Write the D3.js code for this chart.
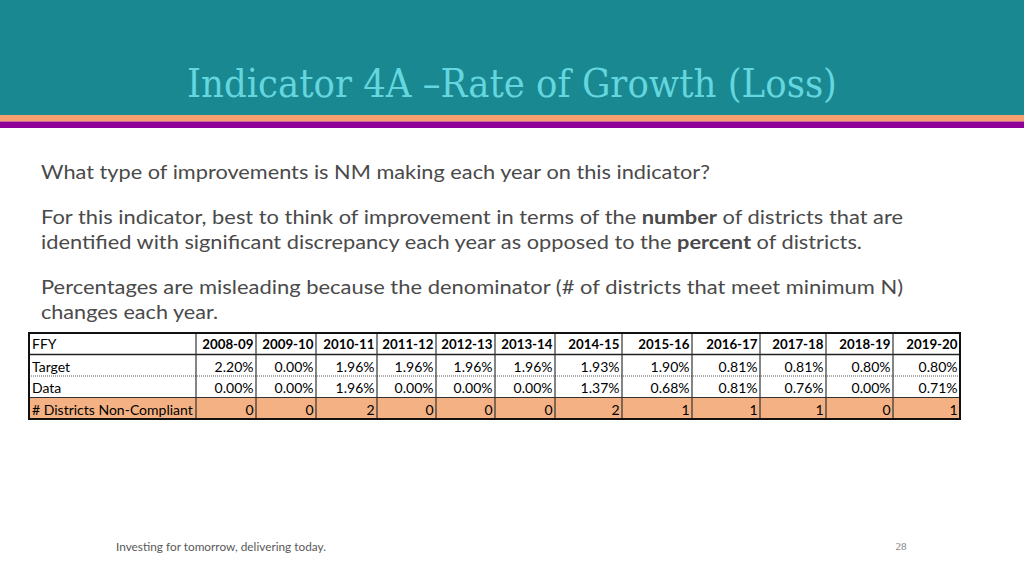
<!DOCTYPE html>
<html><head><meta charset="utf-8">
<script src="https://cdn.jsdelivr.net/npm/d3@7"></script>
<style>
html,body{margin:0;padding:0;background:#fff;}
svg{display:block;}
</style></head>
<body>
<svg id="c" width="1024" height="576"></svg>
<script>
// ---- data ----
const years = ["2008-09","2009-10","2010-11","2011-12","2012-13","2013-14","2014-15","2015-16","2016-17","2017-18","2018-19","2019-20"];
const rowLabels = ["Target","Data","# Districts Non-Compliant"];
const targetValues = [2.20,0.00,1.96,1.96,1.96,1.96,1.93,1.90,0.81,0.81,0.80,0.80];
const dataValues = [0.00,0.00,1.96,0.00,0.00,0.00,1.37,0.68,0.81,0.76,0.00,0.71];
const nonCompliant = [0,0,2,0,0,0,2,1,1,1,0,1];
const title = "Indicator 4A \u2013Rate of Growth (Loss)";
const footer = "Investing for tomorrow, delivering today.";
const pageNumber = "28";

// ---- layout ----
const svg = d3.select("#c");
const bodyFont = "Lato, 'Open Sans', sans-serif";

svg.append("rect").attr("x",0).attr("y",0).attr("width",1024).attr("height",115).attr("fill","#198891");
svg.append("rect").attr("x",0).attr("y",115).attr("width",1024).attr("height",6.5).attr("fill","#f79f6e");
svg.append("rect").attr("x",0).attr("y",121.5).attr("width",1024).attr("height",6.5).attr("fill","#8e0199");

svg.append("text").attr("x",512).attr("y",97).attr("text-anchor","middle")
  .attr("font-family","'DejaVu Serif Condensed','Liberation Serif',serif").attr("font-size",40)
  .attr("fill","#64d6df").attr("textLength",650).attr("lengthAdjust","spacingAndGlyphs").text(title);

// body text
const lines = [
  {y:179, parts:[["What type of improvements is NM making each year on this indicator?",false]], w:669},
  {y:224, parts:[["For this indicator, best to think of improvement in terms of the ",false],["number",true],[" of districts that are",false]], w:862},
  {y:249, parts:[["identified with significant discrepancy each year as opposed to the ",false],["percent",true],[" of districts.",false]], w:821},
  {y:294, parts:[["Percentages are misleading because the denominator (# of districts that meet minimum N)",false]], w:862},
  {y:319, parts:[["changes each year.",false]], w:177}
];
lines.forEach(l=>{
  const t = svg.append("text").attr("x",41).attr("y",l.y).attr("font-family",bodyFont)
    .attr("font-size",19.5).attr("fill","#4a4a4a").attr("textLength",l.w).attr("lengthAdjust","spacingAndGlyphs");
  l.parts.forEach(p=>t.append("tspan").attr("font-weight",p[1]?"bold":"normal").text(p[0]));
});

// table
const colUnits = [167,60,60,61,59,59,60,67,70,68,66,67,67];
const colKeys = ["label"].concat(years);
const cum = [0]; colUnits.forEach((u,i)=>cum.push(cum[i]+u));
const x = d3.scaleLinear().domain([0,cum[cum.length-1]]).range([29,960]);
const colEnd = k => x(cum[colKeys.indexOf(k)+1]);
const rowKeys = ["FFY"].concat(rowLabels);
const y = d3.scaleBand().domain(rowKeys).range([333,419]).paddingInner(0).paddingOuter(0);

const fmtPct = v => v.toFixed(2)+"%";
const rows = [
  {key:"FFY", label:"FFY", vals:years, bold:true, fill:"#fff", dy:5, fs:13.3},
  {key:"Target", label:"Target", vals:targetValues.map(fmtPct), bold:false, fill:"#fff", dy:6.5, fs:14},
  {key:"Data", label:"Data", vals:dataValues.map(fmtPct), bold:false, fill:"#fff", dy:6.5, fs:14},
  {key:"# Districts Non-Compliant", label:"# Districts Non-Compliant", vals:nonCompliant.map(String), bold:false, fill:"#f4b183", dy:6.5, fs:14}
];
const tg = svg.append("g");
const tableFont = "Lato, 'Open Sans', sans-serif";
rows.forEach(r=>{
  tg.append("rect").attr("x",x(0)).attr("y",y(r.key)).attr("width",x(cum[cum.length-1])-x(0))
    .attr("height",y.bandwidth()).attr("fill",r.fill);
  tg.append("text").attr("x",x(0)+3).attr("y",y(r.key)+y.bandwidth()/2+r.dy)
    .attr("font-family",tableFont).attr("font-size",14).attr("fill","#000").text(r.label);
  tg.selectAll(null).data(r.vals).join("text")
    .attr("x",(d,i)=>colEnd(years[i])-2.5).attr("y",y(r.key)+y.bandwidth()/2+r.dy)
    .attr("text-anchor","end").attr("font-family",tableFont).attr("font-size",r.fs)
    .attr("font-weight",r.bold?"bold":"normal").attr("fill","#000").text(d=>d);
});
// horizontal lines
tg.append("line").attr("x1",x(0)).attr("x2",x(cum[cum.length-1])).attr("y1",y("Target")).attr("y2",y("Target"))
  .attr("stroke","#222").attr("stroke-width",1.5);
tg.append("line").attr("x1",x(0)).attr("x2",x(cum[cum.length-1])).attr("y1",y("Data")).attr("y2",y("Data"))
  .attr("stroke","#555").attr("stroke-width",1).attr("stroke-dasharray","1,1");
tg.append("line").attr("x1",x(0)).attr("x2",x(cum[cum.length-1])).attr("y1",y(rowLabels[2])).attr("y2",y(rowLabels[2]))
  .attr("stroke","#333").attr("stroke-width",1.2);
// vertical lines
cum.slice(1,-1).forEach(u=>{
  tg.append("line").attr("x1",x(u)).attr("x2",x(u)).attr("y1",333).attr("y2",419)
    .attr("stroke","#333").attr("stroke-width",1.2);
});
// outer border
tg.append("rect").attr("x",x(0)).attr("y",333).attr("width",x(cum[cum.length-1])-x(0)).attr("height",86)
  .attr("fill","none").attr("stroke","#111").attr("stroke-width",2);

// footer
svg.append("text").attr("x",116).attr("y",551).attr("font-family",bodyFont).attr("font-size",11.5)
  .attr("fill","#595959").attr("textLength",210).attr("lengthAdjust","spacingAndGlyphs").text(footer);
svg.append("text").attr("x",901).attr("y",550).attr("text-anchor","middle").attr("font-family","'Liberation Serif',serif")
  .attr("font-size",11).attr("fill","#7f7f7f").text(pageNumber);
</script>
</body></html>
